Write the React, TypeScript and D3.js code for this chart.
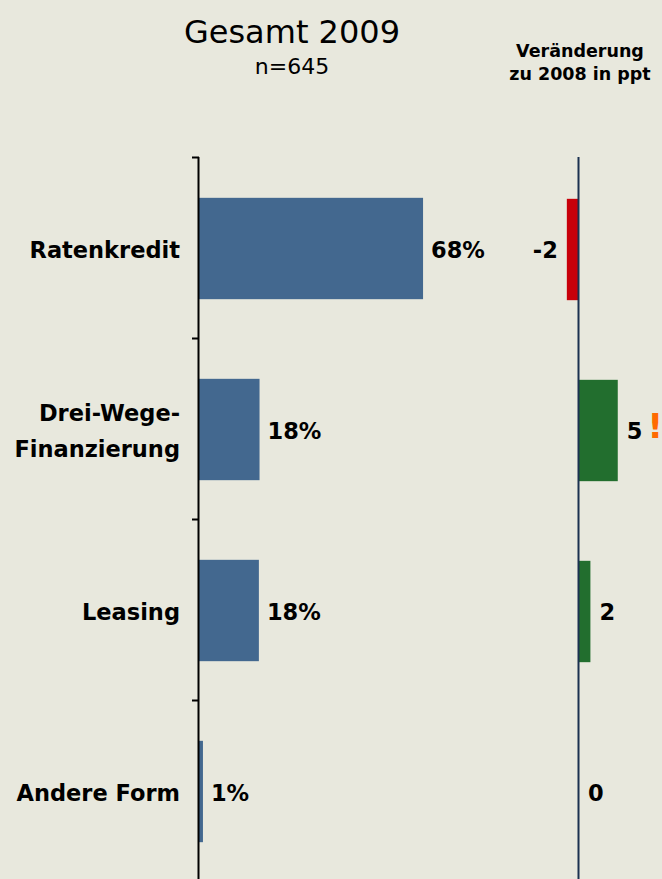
import React, { useEffect, useRef } from 'react';
import * as d3 from 'd3';

// data
const categories = ['Ratenkredit', 'Drei-Wege-Finanzierung', 'Leasing', 'Andere Form'];
const categoryLines = [['Ratenkredit'], ['Drei-Wege-', 'Finanzierung'], ['Leasing'], ['Andere Form']];
const shares2009 = [68.1, 18.4, 18.2, 1.2];
const change2008 = [-1.6, 5.1, 1.5, 0];
const flagged = [false, true, false, false];

export default function App() {
  const ref = useRef<SVGSVGElement>(null);

  useEffect(() => {
    const width = 662;
    const height = 879;
    const font = "'DejaVu Sans', Verdana, sans-serif";
    const labelSize = 22.5;

    const svg = d3.select(ref.current);
    svg.selectAll('*').remove();

    svg.append('rect').attr('width', width).attr('height', height).attr('fill', '#e8e8dd');

    // band scale for the categories
    const y = d3
      .scaleBand()
      .domain(categories)
      .range([157, 157 + 4 * 181])
      .paddingInner(0.44)
      .paddingOuter(0.22);

    // share scale (left chart)
    const x = d3.scaleLinear().domain([0, 100]).range([199, 528]);

    // change scale (right chart)
    const xc = d3.scaleLinear().domain([0, 1]).range([579, 586.6]);

    const rows = categories.map((c, i) => ({
      cat: c,
      lines: categoryLines[i],
      share: shares2009[i],
      change: change2008[i],
      flag: flagged[i],
    }));

    // titles
    svg
      .append('text')
      .attr('x', 292)
      .attr('y', 43)
      .attr('text-anchor', 'middle')
      .style('font-family', font)
      .style('font-size', '32px')
      .text('Gesamt 2009');
    svg
      .append('text')
      .attr('x', 292)
      .attr('y', 74)
      .attr('text-anchor', 'middle')
      .style('font-family', font)
      .style('font-size', '22px')
      .text('n=645');
    const sub = svg
      .append('text')
      .attr('text-anchor', 'middle')
      .style('font-family', font)
      .style('font-size', '17.5px')
      .style('font-weight', 'bold');
    sub.append('tspan').attr('x', 580).attr('y', 57).text('Veränderung');
    sub.append('tspan').attr('x', 580).attr('y', 80).text('zu 2008 in ppt');

    const center = (c: string) => (y(c) as number) + y.bandwidth() / 2;

    // main bars
    svg
      .append('g')
      .selectAll('rect')
      .data(rows)
      .join('rect')
      .attr('x', x(0))
      .attr('y', (d) => (y(d.cat) as number) + 1)
      .attr('width', (d) => x(d.share) - x(0))
      .attr('height', y.bandwidth())
      .attr('fill', '#43688f');

    // left axis with ticks at band boundaries
    const axis = svg.append('g');
    axis
      .append('line')
      .attr('x1', 198.5)
      .attr('x2', 198.5)
      .attr('y1', 157)
      .attr('y2', height)
      .attr('stroke', '#000')
      .attr('stroke-width', 2);
    axis
      .selectAll('line.tick')
      .data(d3.range(5))
      .join('line')
      .attr('class', 'tick')
      .attr('x1', 192)
      .attr('x2', 199)
      .attr('y1', (i) => 157.5 + i * y.step())
      .attr('y2', (i) => 157.5 + i * y.step())
      .attr('stroke', '#000')
      .attr('stroke-width', 2);

    // share labels
    svg
      .append('g')
      .selectAll('text')
      .data(rows)
      .join('text')
      .attr('x', (d) => x(d.share) + 8)
      .attr('y', (d) => center(d.cat) + 10)
      .style('font-family', font)
      .style('font-size', labelSize + 'px')
      .style('font-weight', 'bold')
      .text((d) => Math.round(d.share) + '%');

    // category labels
    const cats = svg
      .append('g')
      .selectAll('text')
      .data(rows)
      .join('text')
      .attr('text-anchor', 'end')
      .style('font-family', font)
      .style('font-size', labelSize + 'px')
      .style('font-weight', 'bold');
    cats.each(function (d) {
      const t = d3.select(this);
      const n = d.lines.length;
      d.lines.forEach((line, k) => {
        t.append('tspan')
          .attr('x', 180)
          .attr('y', center(d.cat) + 10 + (k - (n - 1) / 2) * 36)
          .text(line);
      });
    });

    // change bars
    svg
      .append('g')
      .selectAll('rect')
      .data(rows.filter((d) => d.change !== 0))
      .join('rect')
      .attr('x', (d) => Math.min(xc(0), xc(d.change)))
      .attr('y', (d) => (y(d.cat) as number) + 2)
      .attr('width', (d) => Math.abs(xc(d.change) - xc(0)))
      .attr('height', y.bandwidth())
      .attr('fill', (d) => (d.change < 0 ? '#c8000a' : '#226e2e'));

    // change axis
    svg
      .append('line')
      .attr('x1', 578.5)
      .attr('x2', 578.5)
      .attr('y1', 157)
      .attr('y2', height)
      .attr('stroke', '#1b3150')
      .attr('stroke-width', 2);

    // change labels
    const cl = svg
      .append('g')
      .selectAll('text')
      .data(rows)
      .join('text')
      .attr('x', (d) => (d.change < 0 ? xc(d.change) - 9 : xc(d.change) + 9))
      .attr('y', (d) => center(d.cat) + 10)
      .attr('text-anchor', (d) => (d.change < 0 ? 'end' : 'start'))
      .style('font-family', font)
      .style('font-size', labelSize + 'px')
      .style('font-weight', 'bold');
    cl.append('tspan').text((d) => String(Math.round(d.change)));
    cl.filter((d) => d.flag)
      .append('tspan')
      .attr('dx', 5)
      .attr('dy', -1)
      .style('fill', '#ff6a00')
      .style('font-size', '34px')
      .text('!');
  });

  return (
    <svg
      ref={ref}
      width={662}
      height={879}
      style={{ position: 'absolute', left: 0, top: 0, display: 'block' }}
    />
  );
}
